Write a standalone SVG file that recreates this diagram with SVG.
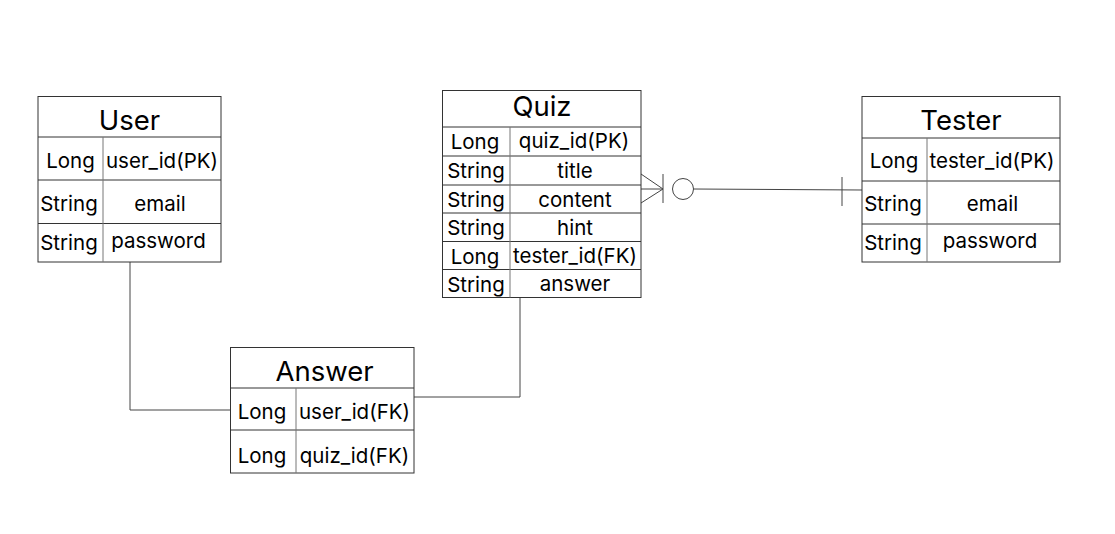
<svg xmlns="http://www.w3.org/2000/svg" width="1115" height="534" viewBox="0 0 1115 534">
<style>
.box{fill:#fff;stroke:#333;stroke-width:1}
.ln{stroke:#333;stroke-width:1;fill:none}
.cd{stroke:#777;stroke-width:1;fill:none}
.t{font-family:Inter,"Liberation Sans",sans-serif;font-size:27.5px;fill:#000;text-anchor:middle}
.f{font-family:Inter,"Liberation Sans",sans-serif;font-size:20.5px;fill:#000;text-anchor:middle}
.c{stroke:#444;stroke-width:1;fill:none}
</style>
<rect width="1115" height="534" fill="#fff"/>
<g id="connectors">
<polyline class="c" points="130,262 130,410 230,410"/>
<polyline class="c" points="414,397 520,397 520,297"/>
<line class="c" x1="641" y1="189" x2="663" y2="189"/>
<line class="c" x1="641" y1="174" x2="663" y2="189"/>
<line class="c" x1="641" y1="203" x2="663" y2="189"/>
<line class="c" x1="663" y1="174" x2="663" y2="203"/>
<circle class="c" cx="683" cy="189" r="10.5"/>
<line class="c" x1="693.5" y1="189" x2="862" y2="190"/>
<line class="c" x1="842" y1="177" x2="842" y2="206"/>
</g>
<g id="user">
<rect class="box" x="38" y="96.5" width="183" height="165.5"/>
<line class="ln" x1="38" y1="137" x2="221" y2="137"/>
<line class="ln" x1="38" y1="180" x2="221" y2="180"/>
<line class="ln" x1="38" y1="223.5" x2="221" y2="223.5"/>
<line class="cd" x1="103" y1="137" x2="103" y2="262"/>
<text class="t" x="129.5" y="129.5">User</text>
<text class="f" x="70.5" y="167.5">Long</text>
<text class="f" x="162" y="167.5">user_id(PK)</text>
<text class="f" x="69" y="210.5">String</text>
<text class="f" x="160" y="210.5">email</text>
<text class="f" x="69" y="249.5">String</text>
<text class="f" x="158.5" y="247.5">password</text>
</g>
<g id="quiz">
<rect class="box" x="442.5" y="90.5" width="198.5" height="207"/>
<line class="ln" x1="442.5" y1="127" x2="641" y2="127"/>
<line class="ln" x1="442.5" y1="156" x2="641" y2="156"/>
<line class="ln" x1="442.5" y1="185" x2="641" y2="185"/>
<line class="ln" x1="442.5" y1="213" x2="641" y2="213"/>
<line class="ln" x1="442.5" y1="241.5" x2="641" y2="241.5"/>
<line class="ln" x1="442.5" y1="269.5" x2="641" y2="269.5"/>
<line class="cd" x1="510" y1="127" x2="510" y2="297.5"/>
<text class="t" x="542" y="115.5">Quiz</text>
<text class="f" x="475" y="148.5">Long</text>
<text class="f" x="574" y="147.5">quiz_id(PK)</text>
<text class="f" x="476" y="177.5">String</text>
<text class="f" x="575" y="177.5">title</text>
<text class="f" x="476" y="206.5">String</text>
<text class="f" x="575" y="206.5">content</text>
<text class="f" x="476" y="234.5">String</text>
<text class="f" x="575" y="234.5">hint</text>
<text class="f" x="475" y="263.5">Long</text>
<text class="f" x="575" y="262.5">tester_id(FK)</text>
<text class="f" x="476" y="291.5">String</text>
<text class="f" x="575" y="290.5">answer</text>
</g>
<g id="tester">
<rect class="box" x="862" y="96.5" width="198" height="165.5"/>
<line class="ln" x1="862" y1="138" x2="1060" y2="138"/>
<line class="ln" x1="862" y1="181" x2="1060" y2="181"/>
<line class="ln" x1="862" y1="224" x2="1060" y2="224"/>
<line class="cd" x1="927" y1="138" x2="927" y2="262"/>
<text class="t" x="961" y="129.5">Tester</text>
<text class="f" x="894" y="167.5">Long</text>
<text class="f" x="992" y="167.5">tester_id(PK)</text>
<text class="f" x="893" y="210.5">String</text>
<text class="f" x="992.5" y="210.5">email</text>
<text class="f" x="893" y="249.5">String</text>
<text class="f" x="990" y="247.5">password</text>
</g>
<g id="answer">
<rect class="box" x="230.5" y="347.5" width="183.5" height="125.5"/>
<line class="ln" x1="230.5" y1="388" x2="414" y2="388"/>
<line class="ln" x1="230.5" y1="430" x2="414" y2="430"/>
<line class="cd" x1="296" y1="388" x2="296" y2="473"/>
<text class="t" x="324.5" y="380.5">Answer</text>
<text class="f" x="262" y="418.5">Long</text>
<text class="f" x="354.5" y="418.5">user_id(FK)</text>
<text class="f" x="262" y="462.5">Long</text>
<text class="f" x="354.5" y="462.5">quiz_id(FK)</text>
</g>
</svg>
